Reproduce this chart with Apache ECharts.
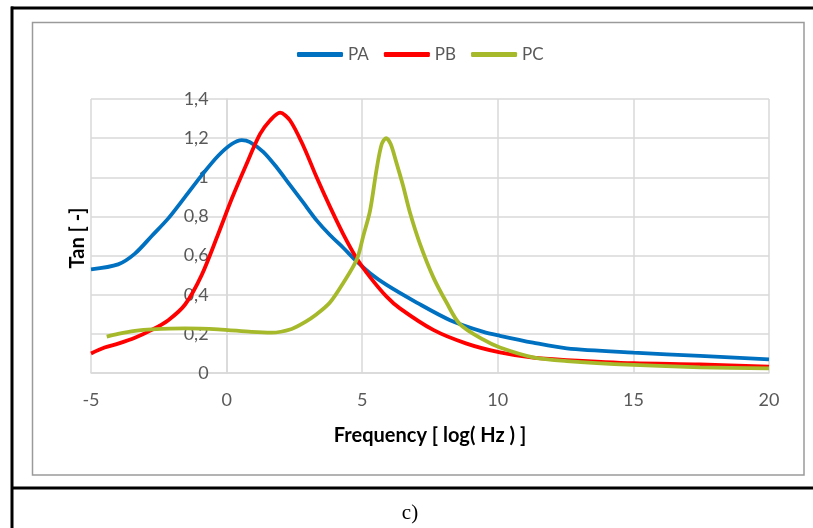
<!DOCTYPE html>
<html>
<head>
<meta charset="utf-8">
<script src="https://cdn.jsdelivr.net/npm/echarts@6/dist/echarts.min.js"></script>
<style>
html,body{margin:0;padding:0;background:#fff;}
#chart{width:813px;height:528px;}
</style>
</head>
<body>
<div id="chart"></div>
<script>
var seriesNames = ['PA', 'PB', 'PC'];
var xTicks = [-5, 0, 5, 10, 15, 20];
var yTicks = [0, 0.2, 0.4, 0.6, 0.8, 1, 1.2, 1.4];

var paX = [-5, -4.0, -3.38, -2.76, -2.15, -1.53, -0.92, -0.31, 0.19, 0.56, 0.86, 1.35, 1.85, 2.34, 2.83, 3.32, 3.81, 4.30, 4.80, 5.29, 5.90, 7.01, 8.24, 9.47, 10.08, 11.3, 12.54, 15.0, 17.46, 20];
var paY = [0.53, 0.555, 0.61, 0.70, 0.79, 0.90, 1.01, 1.11, 1.17, 1.19, 1.18, 1.13, 1.05, 0.96, 0.87, 0.78, 0.705, 0.64, 0.57, 0.51, 0.45, 0.36, 0.27, 0.21, 0.19, 0.155, 0.126, 0.104, 0.087, 0.07];

var pbX = [-5, -4.5, -4.0, -3.38, -2.76, -2.15, -1.53, -0.92, -0.31, 0.19, 0.68, 1.23, 1.60, 1.97, 2.34, 2.83, 3.32, 3.81, 4.30, 4.80, 5.29, 5.90, 6.39, 7.62, 8.85, 10.08, 11.3, 12.54, 15.0, 17.46, 20];
var pbY = [0.10, 0.13, 0.15, 0.18, 0.22, 0.27, 0.35, 0.50, 0.71, 0.89, 1.05, 1.22, 1.29, 1.33, 1.29, 1.16, 1.00, 0.85, 0.71, 0.585, 0.49, 0.39, 0.33, 0.22, 0.15, 0.105, 0.078, 0.066, 0.05, 0.044, 0.032];

var pcX = [-4.42, -4.0, -3.38, -2.76, -1.53, -0.31, 0.92, 1.66, 2.40, 2.89, 3.32, 3.81, 4.30, 4.80, 5.04, 5.29, 5.53, 5.72, 5.88, 6.05, 6.25, 6.50, 6.76, 7.13, 7.62, 8.11, 8.60, 9.47, 10.08, 11.3, 12.54, 15.0, 17.46, 20];
var pcY = [0.186, 0.20, 0.215, 0.223, 0.228, 0.223, 0.21, 0.206, 0.225, 0.26, 0.30, 0.36, 0.46, 0.58, 0.70, 0.83, 1.04, 1.17, 1.20, 1.17, 1.08, 0.96, 0.82, 0.66, 0.49, 0.36, 0.25, 0.17, 0.13, 0.08, 0.061, 0.041, 0.029, 0.024];

function zip(xs, ys) { return xs.map(function (x, i) { return [x, ys[i]]; }); }

var chart = echarts.init(document.getElementById('chart'), null, {renderer: 'canvas'});
var labelFont = 'Lato, "Open Sans", sans-serif';

chart.setOption({
  animation: false,
  backgroundColor: '#ffffff',
  color: ['#0070C0', '#FF0000', '#A5B92B'],
  graphic: [
    {type: 'rect', shape: {x: 11, y: 6.5, width: 802, height: 3}, style: {fill: '#000'}},
    {type: 'rect', shape: {x: 10.5, y: 6.5, width: 3, height: 522}, style: {fill: '#000'}},
    {type: 'rect', shape: {x: 11, y: 486.5, width: 802, height: 3}, style: {fill: '#000'}},
    {type: 'rect', shape: {x: 32.5, y: 22.5, width: 771.5, height: 452.5}, style: {fill: 'none', stroke: '#9a9a9a', lineWidth: 1.5}},
    {type: 'text', x: 410, y: 513, style: {text: 'c)', font: '21px "Liberation Serif", "DejaVu Serif", serif', fill: '#000', align: 'center', verticalAlign: 'middle'}},
    {type: 'text', x: 78, y: 238, rotation: Math.PI / 2, style: {text: 'Tan [ -]', font: 'bold 20px Lato, "Open Sans", sans-serif', fill: '#000', align: 'center', verticalAlign: 'middle'}}
  ],
  legend: {
    data: seriesNames,
    top: 46,
    left: 297,
    padding: 0,
    icon: 'roundRect',
    itemWidth: 46,
    itemHeight: 5,
    itemGap: 15,
    textStyle: {color: '#595959', fontSize: 17, fontFamily: labelFont}
  },
  grid: {left: 91, right: 44, top: 99, bottom: 155, containLabel: false, outerBoundsMode: 'none'},
  xAxis: {
    type: 'value',
    min: -5, max: 20, interval: 5,
    name: 'Frequency [ log( Hz ) ]',
    nameLocation: 'middle',
    nameGap: 53,
    nameTextStyle: {color: '#000', fontSize: 20, fontWeight: 'bold', fontFamily: labelFont},
    axisLine: {show: true, lineStyle: {color: '#d9d9d9', width: 1.5}},
    axisTick: {show: false},
    axisLabel: {color: '#595959', fontSize: 18, fontFamily: labelFont, margin: 18},
    splitLine: {show: true, lineStyle: {color: '#d9d9d9', width: 1.5}}
  },
  yAxis: {
    type: 'value',
    min: 0, max: 1.4, interval: 0.2,
    offset: -135.6,
    axisLine: {show: true, onZero: false, lineStyle: {color: '#d9d9d9', width: 1.5}},
    axisTick: {show: false},
    axisLabel: {
      color: '#595959', fontSize: 18, fontFamily: labelFont, margin: 18,
      formatter: function (v) { return String(Math.round(v * 10) / 10).replace('.', ','); }
    },
    splitLine: {show: true, lineStyle: {color: '#d9d9d9', width: 1.5}}
  },
  series: [
    {name: 'PA', type: 'line', data: zip(paX, paY), smooth: 0.3, showSymbol: false, symbol: 'none', lineStyle: {width: 3.8}},
    {name: 'PB', type: 'line', data: zip(pbX, pbY), smooth: 0.3, showSymbol: false, symbol: 'none', lineStyle: {width: 3.8}},
    {name: 'PC', type: 'line', data: zip(pcX, pcY), smooth: 0.3, showSymbol: false, symbol: 'none', lineStyle: {width: 3.8}}
  ]
});
</script>
</body>
</html>
